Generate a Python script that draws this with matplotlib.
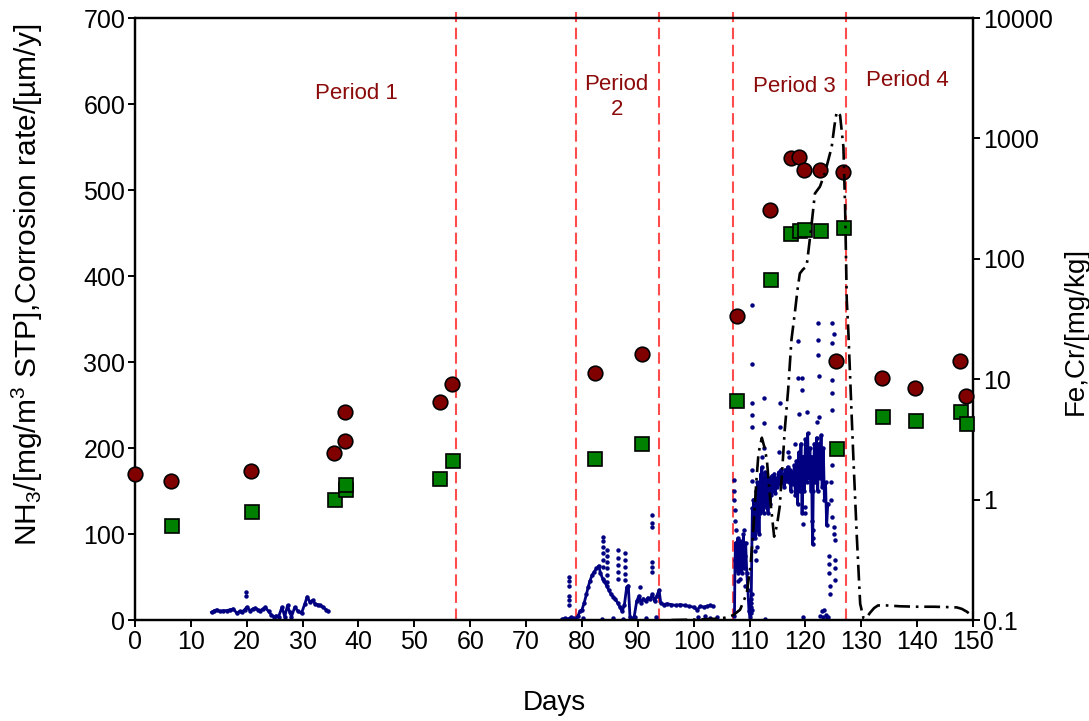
import matplotlib
matplotlib.use("Agg")
import matplotlib.pyplot as plt
from matplotlib.ticker import FixedLocator, FixedFormatter, NullLocator

plt.rcParams['font.family'] = ['Liberation Sans', 'DejaVu Sans']
plt.rcParams['mathtext.fontset'] = 'custom'
plt.rcParams['mathtext.rm'] = 'Liberation Sans'
plt.rcParams['mathtext.it'] = 'Liberation Sans:italic'

# Fe (red circles) and Cr (green squares), mg/kg, right log axis
fe_day = [0, 6.4, 20.7, 35.7, 37.6, 37.6, 54.5, 56.7, 82.3, 90.7, 107.7, 113.7,
          117.4, 118.8, 119.7, 122.6, 126.8, 125.5, 133.7, 139.7, 147.7, 148.7]
fe_val = [1.64, 1.43, 1.74, 2.45, 3.06, 5.3, 6.5, 9.1, 11.2, 16.3, 33.5, 254,
          687, 706, 543, 544, 529, 14.3, 10.2, 8.45, 14.3, 7.2]

cr_day = [6.6, 20.9, 35.8, 37.8, 37.8, 54.6, 56.9, 82.4, 90.8, 107.8, 113.8,
          117.5, 119.1, 119.9, 122.7, 126.9, 125.6, 133.8, 139.8, 147.8, 148.9]
cr_val = [0.60, 0.79, 0.99, 1.20, 1.32, 1.49, 2.08, 2.19, 2.89, 6.6, 67,
          161, 171, 172, 171, 180, 2.61, 4.89, 4.5, 5.3, 4.27]

# corrosion rate, um/y (left axis)
corr_day = [96, 100, 104, 106, 107.1, 108.3, 109.5, 110.2, 110.7, 111.2, 111.6, 112.2,
            112.7, 113.1, 113.7, 114.4, 114.9, 115.4, 115.9, 116.3, 116.9, 117.5, 118.1,
            118.6, 119.0, 119.6, 120.2, 120.5, 121.1, 121.7, 122.6, 123.5, 124.1, 124.7,
            125.2, 125.6, 126.2, 126.8, 127.1, 127.4, 127.7, 128.2, 128.6, 129.2, 129.8,
            130.4, 131.0, 131.5, 132.3, 133.0, 134.5, 137, 140, 143, 146, 147.1, 148.0,
            148.9, 150]
corr_val = [0, 0.5, 1.5, 3, 5.8, 12, 31, 65, 108, 160, 194, 212,
            200, 186, 140, 97, 110, 132, 180, 221, 267, 326, 357,
            385, 403, 408, 411, 427, 460, 496, 504, 520, 535, 550,
            575, 591, 587, 550, 481, 372, 333, 250, 186, 97, 19,
            2, 3, 8, 14, 17, 17, 16, 15.5, 15.5, 15, 14.7, 13,
            9.7, 4]

# NH3, mg/m3 STP (left axis): continuous traces and scattered readings
nh3_trace1 = [(13.7, 9), (14.2, 11), (14.6, 12), (15.2, 10), (15.8, 11), (16.4, 11),
              (17.0, 12), (17.6, 13), (18.2, 8), (18.7, 10), (19.1, 9), (19.6, 12),
              (20.0, 15), (20.6, 11), (21.1, 13), (21.5, 14), (22.0, 12), (22.4, 11),
              (22.9, 13), (23.3, 15), (23.9, 10), (24.4, 6), (24.8, 4), (25.3, 5),
              (25.7, 4), (26.3, 15), (26.8, 4), (27.3, 17), (27.7, 9), (28.0, 4),
              (28.6, 15), (29.2, 10), (29.8, 8), (30.4, 19), (30.8, 27), (31.3, 21),
              (31.8, 23), (32.2, 19), (32.7, 18), (33.1, 17), (33.7, 15), (34.2, 12),
              (34.6, 10)]
nh3_scatter1 = [(19.8, 28), (19.8, 33)]

nh3_trace2 = [(76.5, 1), (77.0, 2), (77.5, 1), (78.0, 3), (78.5, 2), (79.0, 1), (79.3, 5),
              (79.6, 10), (80.0, 12), (80.4, 20), (80.8, 30), (81.1, 38), (81.4, 45),
              (81.8, 52), (82.2, 56), (82.6, 60), (83.0, 63), (83.3, 55), (83.7, 48),
              (84.0, 45), (84.4, 40), (84.8, 35), (85.2, 30), (85.6, 27), (86.0, 24),
              (86.4, 20), (86.8, 15), (87.2, 10), (87.6, 18), (88.0, 38), (88.3, 40),
              (88.6, 3), (89.3, 2), (89.8, 22), (90.2, 28), (90.6, 20), (91.0, 25),
              (91.4, 22), (91.8, 26), (92.2, 24), (92.6, 30), (93.0, 22), (93.4, 28),
              (93.8, 35), (94.1, 20), (94.6, 18), (95.2, 19), (96.0, 18), (96.8, 17),
              (97.6, 18), (98.4, 17), (99.2, 16), (100.0, 15), (100.6, 12), (101.2, 16),
              (101.8, 15), (102.4, 16), (103.0, 17), (103.5, 16)]
nh3_scatter2 = [(77.6, 50), (77.6, 45), (77.6, 40), (77.6, 28), (77.6, 23), (77.6, 17),
                (83.7, 97), (83.7, 92), (83.7, 85), (83.7, 78), (83.7, 70), (83.7, 62),
                (84.4, 81), (84.4, 75), (84.4, 68), (84.4, 60), (84.4, 52), (84.4, 44),
                (86.5, 81), (86.5, 72), (86.5, 64), (86.5, 56), (86.5, 48),
                (87.7, 78), (87.7, 70), (87.7, 62), (87.7, 54), (87.7, 46), (90.4, 39),
                (92.5, 122), (92.5, 113), (92.5, 108), (92.5, 68), (92.5, 62), (92.5, 56),
                (80.2, 2), (83.5, 1), (85.5, 2), (87.3, 1), (89.5, 3), (91.4, 2),
                (93.3, 4), (100.7, 3), (102.0, 5), (103.0, 2), (104.2, 4)]

nh3_trace3 = [(107.3, 5), (107.4, 70), (107.5, 90), (107.6, 58), (107.7, 85), (107.8, 62),
              (107.9, 95), (108.0, 55), (108.1, 80), (108.2, 65), (108.3, 92), (108.4, 60),
              (108.5, 78), (108.6, 55), (108.7, 88), (108.8, 70), (108.9, 100), (109.0, 60),
              (109.1, 75), (109.3, 90), (109.5, 55), (109.7, 35), (109.9, 10), (110.1, 4),
              (110.3, 25), (110.5, 130), (110.6, 95), (110.7, 140), (110.8, 105), (110.9, 125),
              (111.0, 95), (111.2, 150), (111.3, 105), (111.4, 160), (111.5, 120), (111.6, 140),
              (111.7, 100), (111.8, 155), (111.9, 125), (112.0, 170), (112.1, 130), (112.2, 178),
              (112.3, 135), (112.4, 165), (112.5, 125), (112.6, 160), (112.7, 140), (112.8, 172),
              (112.9, 145), (113.0, 165), (113.1, 130), (113.2, 160), (113.3, 125), (113.4, 155),
              (113.5, 140), (113.6, 165), (113.7, 135), (113.8, 160), (113.9, 145), (114.0, 168),
              (114.2, 150), (114.4, 170), (114.6, 148), (114.8, 165), (115.0, 155), (115.2, 172),
              (115.4, 158), (115.6, 175), (115.8, 160), (116.0, 170), (116.2, 155), (116.4, 175),
              (116.6, 162), (116.8, 178), (117.0, 160), (117.2, 175), (117.4, 150), (117.6, 172),
              (117.8, 158), (118.0, 180), (118.2, 145), (118.4, 185), (118.6, 135), (118.8, 195),
              (119.0, 150), (119.2, 205), (119.4, 125), (119.6, 190), (119.8, 150), (120.0, 210),
              (120.2, 160), (120.4, 217), (120.6, 165), (120.8, 200), (121.0, 150), (121.1, 190),
              (121.2, 115), (121.3, 88), (121.4, 150), (121.6, 205), (121.8, 160), (122.0, 212),
              (122.2, 150), (122.4, 205), (122.6, 165), (122.8, 215), (123.0, 155), (123.2, 200),
              (123.4, 140), (123.6, 160), (123.8, 110), (124.0, 135)]
nh3_scatter3 = [(107.2, 163), (107.3, 150), (107.3, 140), (107.4, 128), (107.4, 115), (107.5, 105),
                (108.0, 45), (108.3, 48), (109.0, 105), (109.2, 40),
                (110.2, 8), (110.3, 15), (110.2, 20), (110.4, 30), (110.5, 12),
                (110.4, 366), (110.4, 298), (110.4, 252), (110.4, 238), (110.4, 225),
                (110.5, 175), (110.5, 162), (111.0, 80), (111.1, 70), (111.3, 85),
                (112.5, 258), (112.5, 229), (112.6, 200), (112.3, 190),
                (115.4, 252), (115.4, 225), (115.2, 195), (116.8, 195), (117.0, 190),
                (118.6, 324), (118.6, 281), (119.3, 281), (119.3, 267), (118.9, 240), (118.2, 205),
                (120.3, 242), (119.9, 132), (119.9, 124), (119.6, 112), (121.3, 105), (121.3, 95),
                (122.3, 345), (122.3, 326), (122.3, 308), (122.4, 284), (122.4, 236), (122.0, 230),
                (122.6, 5), (122.9, 10), (123.1, 3), (123.3, 12), (123.6, 6), (123.9, 2), (124.0, 4),
                (124.7, 345), (124.7, 322), (124.7, 279), (124.7, 264), (124.7, 244), (124.7, 200),
                (124.7, 180), (124.6, 160), (124.6, 140), (124.7, 120),
                (125.2, 333), (125.2, 108), (125.2, 100), (125.3, 93), (125.3, 70), (125.3, 60),
                (125.3, 47), (124.3, 75), (124.3, 65), (124.2, 55), (124.4, 40), (124.4, 30),
                (112.8, 1), (119.6, 3)]

period_bounds = [57.4, 78.9, 93.8, 107.1, 127.3]
period_labels = [("Period 1", 39.7, 612), ("Period\n2", 86.2, 608),
                 ("Period 3", 118.0, 620), ("Period 4", 138.2, 627)]

navy = '#000080'

fig = plt.figure(figsize=(10.89, 7.21), dpi=100)
ax = fig.add_axes([0.124, 0.140, 0.7695, 0.835])
ax2 = ax.twinx()

for x in period_bounds:
    ax.axvline(x, ymin=0, ymax=1.01, color='#FF4C4C', lw=1.5,
               linestyle=(0, (5.5, 2.7)), clip_on=False, zorder=1)

for tr in (nh3_trace1, nh3_trace2, nh3_trace3):
    d, v = zip(*tr)
    ax.plot(d, v, color=navy, lw=2.0, marker='o', ms=3.2, mew=0, zorder=2)
for sc in (nh3_scatter1, nh3_scatter2, nh3_scatter3):
    d, v = zip(*sc)
    ax.plot(d, v, 'o', color=navy, ms=3.2, mew=0, zorder=2)

for text, x, y in period_labels:
    ax.text(x, y, text, color='#8B0A0A', fontsize=16, ha='center', va='center',
            linespacing=1.25)

ax2.plot(cr_day, cr_val, 's', ms=10, mfc='#008000', mec='black', mew=1.2,
         clip_on=False, zorder=3)
ax2.plot(fe_day, fe_val, 'o', ms=10.5, mfc='#800000', mec='black', mew=1.2,
         clip_on=False, zorder=3)
ax2.plot(corr_day, corr_val, color='black', lw=1.9, linestyle=(0, (6, 2.2, 1, 2.2)),
         transform=ax.transData, zorder=4)

ax.set_xlim(0, 150)
ax.set_ylim(0, 700)
ax.set_xticks(range(0, 151, 10))
ax.set_yticks(range(0, 701, 100))
ax2.set_yscale('log')
ax2.set_ylim(0.1, 10000)
ax2.yaxis.set_major_locator(FixedLocator([0.1, 1, 10, 100, 1000, 10000]))
ax2.yaxis.set_major_formatter(FixedFormatter(['0.1', '1', '10', '100', '1000', '10000']))
ax2.yaxis.set_minor_locator(NullLocator())

for a in (ax, ax2):
    for s in a.spines.values():
        s.set_linewidth(1.6)
    a.tick_params(direction='out', length=5, width=1.4, labelsize=18, pad=2)

ax.set_xlabel('Days', fontsize=20, va='center')
ax.xaxis.set_label_coords(0.5, -0.137)
ax.set_ylabel('NH$_3$/[mg/m$^3$ STP],Corrosion rate/[µm/y]', fontsize=21.5, va='center')
ax.yaxis.set_label_coords(-0.128, 0.556)
ax2.set_ylabel('Fe,Cr/[mg/kg]', fontsize=20, rotation=90, va='center')
ax2.yaxis.set_label_coords(1.122, 0.48)

fig.savefig('out.png', dpi=100)
